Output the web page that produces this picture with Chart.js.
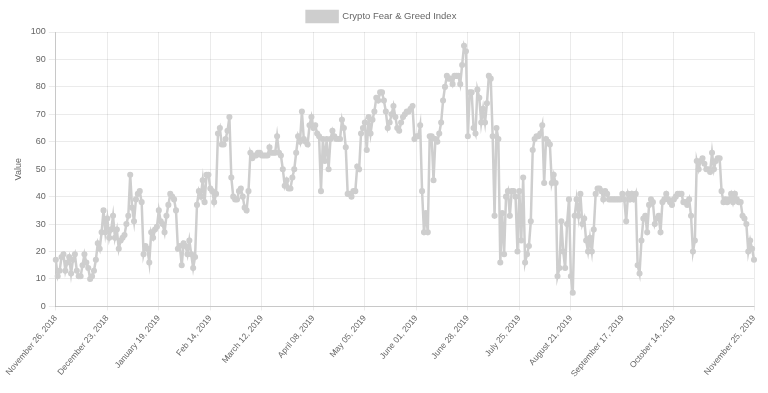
<!DOCTYPE html>
<html>
<head>
<meta charset="utf-8">
<title>Crypto Fear & Greed Index</title>
<script src="https://cdn.jsdelivr.net/npm/chart.js@4.4.0/dist/chart.umd.min.js"></script>
<style>
  html, body { margin: 0; padding: 0; background: #fff; }
  #wrap { width: 768px; height: 393px; }
</style>
</head>
<body>
<div id="wrap"><canvas id="myChart" width="768" height="393"></canvas></div>
<script>
// Daily index values, Nov 26 2018 -> Nov 25 2019
const fngValues = [
  17, 11, 13, 18, 19, 13, 16, 18, 12, 17, 19, 13, 11, 11, 15, 19, 16, 14, 10, 11, 13,
  17, 23, 21, 27, 35, 27,
  32, 25, 28, 33, 25, 28, 21, 24, 25, 26, 30, 33, 48, 36, 31, 39, 41, 42, 38,
  19, 22, 21, 16, 27, 25, 28, 29, 35, 31, 30, 27, 33, 37, 41, 40, 39, 35, 21, 22, 15, 23, 22, 19,
  24, 19, 14, 18, 37, 42, 40, 46, 38, 48, 48, 43, 42, 38, 41, 63, 65, 59, 59, 61, 64, 69, 47, 40,
  39, 39, 42, 43, 40, 36, 35, 42,
  56, 54, 55, 55, 56, 56, 55, 55, 55, 55, 58, 56, 56, 56, 62, 56, 55, 50, 44, 46, 43, 43, 47, 50,
  56, 62, 60, 71, 61, 60, 59, 66, 69, 65, 66, 63, 62, 42, 61, 53, 61, 50, 61,
  64, 62, 61, 61, 61, 68, 65, 58, 41, 41, 40, 42, 42, 51, 50, 63, 65, 67, 57, 69, 63, 68, 71, 76,
  75, 78, 78, 75, 71, 65, 67, 70, 73, 69, 65, 64, 67, 69, 70, 71, 71, 72, 73, 61, 62, 62, 66, 42,
  27, 34, 27, 62, 62, 46, 61, 60, 63, 67, 75, 80, 84, 83, 83, 81, 84, 84, 84, 81, 88, 95, 93,
  62, 78, 78, 65, 63, 79, 76, 67, 72, 67, 74, 84, 83, 62, 33, 65, 61,
  16, 34, 19, 40, 42, 33, 42, 42, 40, 20, 42, 24, 47, 16, 19, 22, 31, 57, 61, 62, 62, 63, 66, 45,
  61, 60, 59, 45, 48, 45, 11, 14, 31, 20, 14, 30, 39, 11, 5, 33, 39, 33, 41, 30, 32, 24, 20, 25,
  20, 28, 41, 43, 43, 42, 39, 42, 41, 39, 39, 39, 39, 39, 39, 39, 41, 39, 31, 41, 39, 41, 39, 41,
  15, 12, 24, 32, 33, 27, 37, 39, 38, 30, 32, 33, 27, 38, 39, 41, 39, 38, 37, 39, 40, 41, 41, 41,
  38, 38, 37, 39, 33, 20, 24, 53, 50, 53, 54, 52, 50, 50, 49, 56, 50, 53, 54, 54, 42, 38, 39, 38,
  39, 41, 38, 41, 39, 38, 38, 33, 32, 30, 20, 24, 21, 17
];

// Labels shown on the x axis and the point index they sit on
const tickLabels = [
  'November 26, 2018', 'December 23, 2018', 'January 19, 2019', 'Feb 14, 2019',
  'March 12, 2019', 'April 08, 2019', 'May 05, 2019', 'June 01, 2019',
  'June 28, 2019', 'July 25, 2019', 'August 21, 2019', 'September 17, 2019',
  'October 14, 2019', 'November 25, 2019'
];
const tickIndex = [0, 27, 54, 81, 108, 135, 162, 189, 216, 243, 270, 297, 324, 366];

const yTicks = [0, 10, 20, 30, 40, 50, 60, 70, 80, 90, 100];

const FONT = '"Liberation Sans", Arial, Helvetica, sans-serif';
const GREY = 'rgb(206, 206, 206)';

Chart.defaults.font.family = FONT;
Chart.defaults.font.size = 9;
Chart.defaults.color = '#666';

const ctx = document.getElementById('myChart').getContext('2d');

new Chart(ctx, {
  type: 'line',
  data: {
    labels: fngValues.map((v, i) => i),
    datasets: [{
      label: 'Crypto Fear & Greed Index',
      data: fngValues,
      borderColor: GREY,
      backgroundColor: GREY,
      borderWidth: 2.5,
      pointRadius: 1.8,
      pointBackgroundColor: GREY,
      pointBorderColor: GREY,
      tension: 0,
      fill: false
    }]
  },
  options: {
    responsive: false,
    animation: false,
    layout: {
      padding: { left: 9, right: 14, top: 3, bottom: 11 }
    },
    plugins: {
      legend: {
        display: true,
        labels: { boxWidth: 31, boxHeight: 11, padding: 8, font: { size: 9.5 }, color: '#666' }
      },
      tooltip: { enabled: false }
    },
    scales: {
      x: {
        type: 'category',
        grid: { color: 'rgba(0,0,0,0.08)', tickLength: 4 },
        border: { color: 'rgba(0,0,0,0.15)' },
        ticks: {
          autoSkip: false,
          maxRotation: 50,
          minRotation: 50,
          font: { size: 8.5 },
          callback: function (val, idx) {
            const k = tickIndex.indexOf(idx);
            return k >= 0 ? tickLabels[k] : null;
          }
        }
      },
      y: {
        min: 0,
        max: 100,
        afterBuildTicks: (axis) => { axis.ticks = yTicks.map(v => ({ value: v })); },
        grid: { color: 'rgba(0,0,0,0.08)', tickLength: 7 },
        border: { color: 'rgba(0,0,0,0.15)' },
        title: { display: true, text: 'Value', font: { size: 9 } },
        ticks: { padding: 3 }
      }
    }
  }
});
</script>
</body>
</html>
